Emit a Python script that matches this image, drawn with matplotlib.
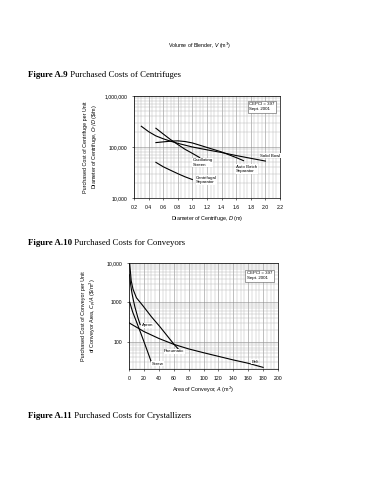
import numpy as np
import matplotlib
matplotlib.use("Agg")
import matplotlib.pyplot as plt
from matplotlib.ticker import FixedLocator, NullFormatter, MultipleLocator, LogLocator

plt.rcParams.update({
    "font.family": ["Liberation Sans", "DejaVu Sans"],
    "font.size": 4,
    "axes.linewidth": 0.5,
    "xtick.labelsize": 3.7,
    "ytick.labelsize": 3.7,
    "xtick.major.size": 1.5,
    "ytick.major.size": 1.5,
    "xtick.major.width": 0.4,
    "ytick.major.width": 0.4,
})

# ── Centrifuge data (D in m, Cp/D in $/m) ────────────────────────────────
solid_bowl_d = [0.3, 0.4, 0.5, 0.6, 0.7, 0.8, 1.0, 1.2, 1.4, 1.6, 1.8, 2.0]
solid_bowl_c = [255e3, 200e3, 165e3, 145e3, 130e3, 118e3, 100e3, 88e3, 78e3, 68e3, 60e3, 53e3]

auto_batch_d = [0.5, 0.6, 0.7, 0.8, 0.9, 1.0, 1.2, 1.4, 1.6, 1.7]
auto_batch_c = [122e3, 126e3, 130e3, 132e3, 128e3, 120e3, 98e3, 80e3, 62e3, 54e3]

osc_screen_d = [0.5, 0.6, 0.7, 0.8, 0.9, 1.0, 1.1]
osc_screen_c = [233e3, 180e3, 140e3, 112e3, 90e3, 75e3, 62e3]

cent_sep_d = [0.5, 0.6, 0.7, 0.8, 0.9, 1.0]
cent_sep_c = [50e3, 41e3, 35e3, 30e3, 26e3, 23e3]

# ── Conveyor data (A in m2, Cp/A in $/m2) ────────────────────────────────
pneumatic_a = [1, 3, 5.4, 10, 18.8, 30, 41, 50, 60, 66]
pneumatic_c = [9400, 3500, 2150, 1300, 810, 430, 245, 150, 87, 65]

apron_a = [1, 2, 4, 6, 8, 10, 12, 15]
apron_c = [5000, 3000, 1700, 1100, 750, 550, 400, 270]

screw_a = [1, 5, 10, 15, 20, 25, 30]
screw_c = [1000, 560, 320, 180, 100, 55, 30]

belt_a = [0, 20, 40, 60, 80, 100, 120, 140, 160, 180]
belt_c = [300, 180, 120, 85, 65, 52, 42, 34, 28, 22]

cent_xticks = [0.2, 0.4, 0.6, 0.8, 1.0, 1.2, 1.4, 1.6, 1.8, 2.0, 2.2]
conv_xticks = [0, 20, 40, 60, 80, 100, 120, 140, 160, 180, 200]

fig = plt.figure(figsize=(3.81, 4.8), dpi=100)
fig.patch.set_facecolor("white")

SERIF = ["Liberation Serif", "DejaVu Serif"]


def style_axes(ax):
    ax.set_yscale("log")
    ax.yaxis.set_minor_locator(LogLocator(base=10, subs=np.arange(2, 10)))
    ax.yaxis.set_minor_formatter(NullFormatter())
    ax.grid(which="major", color="#8c8c8c", linewidth=0.4)
    ax.grid(which="minor", color="#b0b0b0", linewidth=0.3)
    ax.tick_params(which="minor", length=0)
    ax.set_axisbelow(True)


def box(ax, x, y):
    ax.text(x, y, "CEPCI = 397\nSept. 2001", fontsize=3.2, ha="left", va="top",
            linespacing=1.3,
            bbox=dict(boxstyle="square,pad=0.35", fc="white", ec="#555555", lw=0.4))


def label(ax, x, y, s):
    ax.text(x, y, s, fontsize=3.2, va="center", ha="left",
            bbox=dict(fc="white", ec="none", pad=0.3))


# ── Page text ────────────────────────────────────────────────────────────
fig.text(200 / 381, 1 - 46 / 480, r"Volume of Blender, $V$ (m$^3$)", fontsize=3.8,
         ha="center", va="center")
for ypix, num, rest in [(75, "Figure A.9", " Purchased Costs of Centrifuges"),
                        (243, "Figure A.10", " Purchased Costs for Conveyors"),
                        (416, "Figure A.11", " Purchased Costs for Crystallizers")]:
    t = fig.text(28 / 381, 1 - ypix / 480, num, fontsize=6.3, family=SERIF,
                 weight="bold", ha="left", va="center")
    fig.canvas.draw()
    bb = t.get_window_extent()
    fig.text(bb.x1 / fig.bbox.width, 1 - ypix / 480, rest, fontsize=6.3, family=SERIF,
             ha="left", va="center")

# ── Centrifuges ──────────────────────────────────────────────────────────
ax1 = fig.add_axes([134 / 381, 1 - 198 / 480, 146 / 381, 102 / 480])
style_axes(ax1)
for d, c in [(solid_bowl_d, solid_bowl_c), (auto_batch_d, auto_batch_c),
             (osc_screen_d, osc_screen_c), (cent_sep_d, cent_sep_c)]:
    ax1.plot(d, c, color="black", linewidth=0.8)
ax1.set_xlim(0.2, 2.2)
ax1.set_ylim(1e4, 1e6)
ax1.xaxis.set_major_locator(FixedLocator(cent_xticks))
ax1.xaxis.set_minor_locator(MultipleLocator(0.05))
ax1.set_xticklabels([f"{v:.1f}" for v in cent_xticks])
ax1.yaxis.set_major_locator(FixedLocator([1e4, 1e5, 1e6]))
ax1.set_yticklabels(["10,000", "100,000", "1,000,000"])
ax1.set_xlabel(r"Diameter of Centrifuge, $D$ (m)", fontsize=3.9, labelpad=3)
ax1.set_ylabel("Purchased Cost of Centrifuge per Unit\n"
               r"Diameter of Centrifuge, $C_P/D$ (\$/m)", fontsize=3.9, labelpad=4)
label(ax1, 1.93, 67e3, "Solid Bowl")
label(ax1, 1.0, 49e3, "Oscillating\nScreen")
label(ax1, 1.6, 37e3, "Auto Batch\nSeparator")
label(ax1, 1.05, 22.5e3, "Centrifugal\nSeparator")
box(ax1, 1.78, 7.6e5)

# ── Conveyors ────────────────────────────────────────────────────────────
ax2 = fig.add_axes([129 / 381, 1 - 369 / 480, 149 / 381, 106 / 480])
style_axes(ax2)
for a, c in [(pneumatic_a, pneumatic_c), (apron_a, apron_c),
             (screw_a, screw_c), (belt_a, belt_c)]:
    ax2.plot(a, c, color="black", linewidth=0.8)
ax2.set_xlim(0, 200)
ax2.set_ylim(20, 1e4)
ax2.xaxis.set_major_locator(FixedLocator(conv_xticks))
ax2.xaxis.set_minor_locator(MultipleLocator(5))
ax2.yaxis.set_major_locator(FixedLocator([100, 1000, 10000]))
ax2.set_yticklabels(["100", "1000", "10,000"])
ax2.set_xlabel(r"Area of Conveyor, $A$ (m$^2$)", fontsize=3.9, labelpad=3)
ax2.set_ylabel("Purchased Cost of Conveyor per Unit\n"
               r"of Conveyor Area, $C_P/A$ (\$/m$^2$)", fontsize=3.9, labelpad=6)
label(ax2, 17, 257, "Apron")
label(ax2, 47, 56, "Pneumatic")
label(ax2, 30, 27, "Screw")
label(ax2, 164, 31, "Belt")
box(ax2, 158, 6200)

fig.savefig("out.png", dpi=100, facecolor="white")
